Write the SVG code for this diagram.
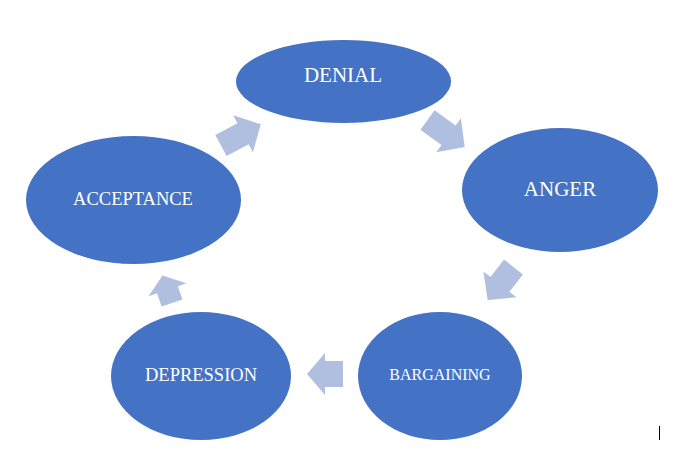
<svg xmlns="http://www.w3.org/2000/svg" width="680" height="450" viewBox="0 0 680 450">
<style>
.node{fill:#4472C4}
.lbl{fill:#ffffff;font-family:"Liberation Serif","Times New Roman",serif;text-anchor:middle}
.arr{fill:#B0BEE0}
</style>
<rect width="680" height="450" fill="#ffffff"/>
<g id="connectors">
<path class="arr" transform="translate(221,145.5) rotate(-28)" d="M0,-12 L25,-12 L25,-21 L45,0 L25,21 L25,12 L0,12 Z"/>
<path class="arr" transform="translate(427.5,120) rotate(36)" d="M0,-12 L26,-12 L26,-21 L46,0 L26,21 L26,12 L0,12 Z"/>
<path class="arr" transform="translate(513.5,267) rotate(128)" d="M0,-12 L22,-12 L22,-21 L42,0 L22,21 L22,12 L0,12 Z"/>
<path class="arr" transform="translate(343,374) rotate(180)" d="M0,-13 L18,-13 L18,-21 L36,0 L18,21 L18,13 L0,13 Z"/>
<path class="arr" transform="translate(172,303) rotate(-109)" d="M0,-11 L14,-11 L14,-20 L29,0 L14,20 L14,11 L0,11 Z"/>
</g>
<g id="denial"><ellipse class="node" cx="343.5" cy="81.5" rx="107.5" ry="41.5"/><text class="lbl" x="343" y="82" font-size="21">DENIAL</text></g>
<g id="anger"><ellipse class="node" cx="560" cy="190" rx="98" ry="62"/><text class="lbl" x="560" y="196" font-size="21">ANGER</text></g>
<g id="bargaining"><ellipse class="node" cx="440" cy="376" rx="82" ry="64"/><text class="lbl" x="440" y="380" font-size="16">BARGAINING</text></g>
<g id="depression"><ellipse class="node" cx="201" cy="376" rx="90" ry="64"/><text class="lbl" x="201" y="381" font-size="18.5">DEPRESSION</text></g>
<g id="acceptance"><ellipse class="node" cx="133.5" cy="200" rx="107.5" ry="64"/><text class="lbl" x="133" y="205" font-size="18.5">ACCEPTANCE</text></g>
<line x1="659.5" y1="426" x2="659.5" y2="440" stroke="#000000" stroke-width="1"/>
</svg>
